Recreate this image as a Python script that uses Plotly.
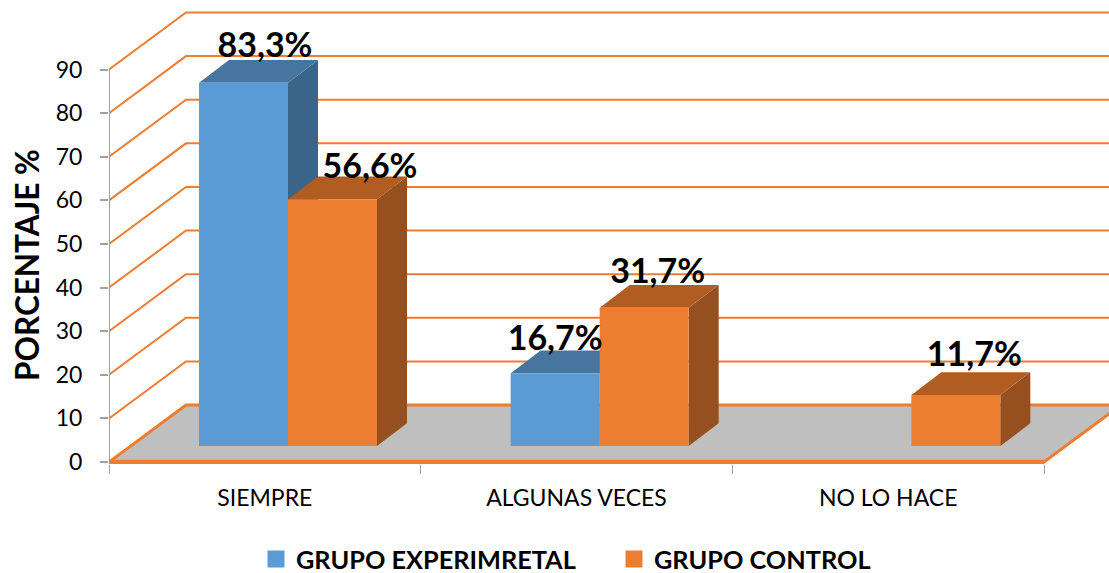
import plotly.graph_objects as go

categories = ["SIEMPRE", "ALGUNAS VECES", "NO LO HACE"]
series_names = ["GRUPO EXPERIMRETAL", "GRUPO CONTROL"]
experimental = [83.3, 16.7, None]
control = [56.6, 31.7, 11.7]
y_ticks = [0, 10, 20, 30, 40, 50, 60, 70, 80, 90]

# colours
BLUE, BLUE_TOP, BLUE_SIDE = "#5B9BD5", "#4675A0", "#3A6488"
ORANGE, ORANGE_TOP, ORANGE_SIDE = "#ED7D31", "#B15D22", "#964F1E"
FLOOR, AXIS = "#BFBFBF", "#A0A0A0"

# geometry in axis units
PX_X, PX_Y = 935 / 3, 4.361          # px per unit, only used for the 3D offsets
L, T, B = 109, 5, 109
X_MAX = 1000 / PX_X
Y_MIN = -2 / PX_Y
Y_MAX = (573 - B - T) / PX_Y + Y_MIN
BACK_DX, BACK_DY = 77 / PX_X, 57 / PX_Y
BAR_DX, BAR_DY = 30 / PX_X, 22.7 / PX_Y
BAR_W = 89 / PX_X
OFF_BLUE, OFF_ORANGE = 90 / PX_X, 179 / PX_X
BASE = 16 / PX_Y


def poly(points, fill, line=None, width=0):
    path = "M" + " L".join(f"{x},{y}" for x, y in points) + " Z"
    return dict(type="path", path=path, xref="x", yref="y", layer="below",
                fillcolor=fill, line=dict(color=line or fill, width=width))


def seg(points, color, width):
    path = "M" + " L".join(f"{x},{y}" for x, y in points)
    return dict(type="path", path=path, xref="x", yref="y", layer="below",
                line=dict(color=color, width=width))


shapes = []
for v in y_ticks[1:]:
    shapes.append(seg([(0, v), (BACK_DX, v + BACK_DY), (X_MAX + 1, v + BACK_DY)], ORANGE, 2))
shapes.append(seg([(0, 0), (0, 90)], AXIS, 2))
shapes.append(poly([(0, 0), (BACK_DX, BACK_DY), (3 + BACK_DX, BACK_DY), (3, 0)], FLOOR, ORANGE, 3))
shapes.append(seg([(0, 0), (3, 0)], ORANGE, 4.5))

for values, off, side, top in [(experimental, OFF_BLUE, BLUE_SIDE, BLUE_TOP),
                               (control, OFF_ORANGE, ORANGE_SIDE, ORANGE_TOP)]:
    for i, v in enumerate(values):
        if v is None:
            continue
        x0, x1 = i + off, i + off + BAR_W
        y0, y1 = BASE, BASE + v
        shapes.append(poly([(x1, y0), (x1 + BAR_DX, y0 + BAR_DY), (x1 + BAR_DX, y1 + BAR_DY), (x1, y1)], side))
        shapes.append(poly([(x0, y1), (x0 + BAR_DX, y1 + BAR_DY), (x1 + BAR_DX, y1 + BAR_DY), (x1, y1)], top))

fig = go.Figure()
for name, values, off, color in [(series_names[0], experimental, OFF_BLUE, BLUE),
                                 (series_names[1], control, OFF_ORANGE, ORANGE)]:
    fig.add_trace(go.Bar(x=list(range(3)), y=values, base=BASE, width=BAR_W, offset=off,
                         marker=dict(color=color, line=dict(width=0)), showlegend=False, name=name))
    # legend swatch only: the thick outline makes the key as large as in the reference
    fig.add_trace(go.Bar(x=[None], y=[None], name=name,
                         marker=dict(color=color, line=dict(color=color, width=5))))

# data labels, nudged individually as in the reference (pixels right, pixels down)
label_nudge_exp = [(21.5, 4), (0, 7), (0, 0)]
label_nudge_ctl = [(37.5, 9), (13.5, 5), (18.5, 1)]
lx, ly, lt = [], [], []
for values, off, nudges in [(experimental, OFF_BLUE, label_nudge_exp), (control, OFF_ORANGE, label_nudge_ctl)]:
    for i, v in enumerate(values):
        if v is None:
            continue
        lx.append(i + off + BAR_W / 2 + nudges[i][0] / PX_X)
        ly.append(BASE + v + BAR_DY + (16 - nudges[i][1]) / PX_Y)
        lt.append(f"{v:.1f}%".replace(".", ","))
fig.add_trace(go.Scatter(x=lx, y=ly, mode="text", text=lt, showlegend=False, cliponaxis=False,
                         textposition="middle center",
                         textfont=dict(family="Lato", size=34, color="black", weight="bold")))

fig.update_layout(
    width=1109, height=573,
    margin=dict(l=L, r=0, t=T, b=B, pad=0),
    paper_bgcolor="white", plot_bgcolor="white",
    barmode="overlay",
    shapes=shapes,
    font=dict(family="Lato", color="black"),
    xaxis=dict(range=[0, X_MAX], showgrid=False, zeroline=False, showline=False,
               tickmode="array", tickvals=[0.5, 1.5, 2.5], ticktext=categories, ticks="",
               ticklabelstandoff=18, tickfont=dict(size=23),
               minor=dict(tickmode="array", tickvals=[0, 1, 2, 3], ticks="outside",
                          ticklen=9, tickwidth=1, tickcolor=AXIS, showgrid=False)),
    yaxis=dict(range=[Y_MIN, Y_MAX], showgrid=False, zeroline=False, showline=False,
               tickmode="array", tickvals=y_ticks, ticks="outside", ticklen=8, tickwidth=2,
               tickcolor=AXIS, ticklabelstandoff=13, tickfont=dict(size=23)),
    legend=dict(orientation="h", x=147 / 1000, xanchor="left",
                yref="container", y=1 - 559 / 573, yanchor="middle",
                entrywidth=313, entrywidthmode="pixels", traceorder="normal",
                font=dict(size=25.3, weight="bold", family="Lato"), bgcolor="rgba(0,0,0,0)"),
    annotations=[dict(text="<b>PORCENTAJE %</b>", xref="paper", yref="paper", x=-82 / 1000,
                      y=(573 - 265 - B) / (573 - B - T), textangle=-90, showarrow=False,
                      xanchor="center", yanchor="middle", font=dict(size=31.5))],
)

fig.write_html("out.html", config={"displayModeBar": False},
               post_script="document.body.style.margin='0';")
